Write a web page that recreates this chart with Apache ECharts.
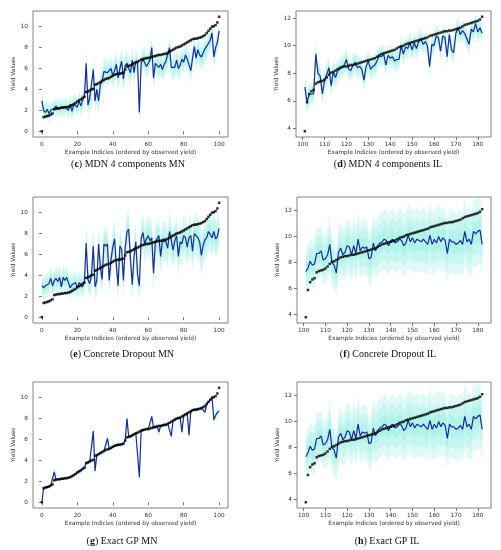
<!DOCTYPE html>
<html><head><meta charset="utf-8">
<script src="https://cdn.jsdelivr.net/npm/echarts@6/dist/echarts.min.js"></script>
<style>html,body{margin:0;padding:0;background:#fff}#c{width:501px;height:550px}</style>
</head><body><div id="c"></div>
<script>
// ---- Data ----
const xMN = Array.from({length:101},(_, i)=>i);
const xIL = Array.from({length:82},(_, i)=>101+i);
const ticksXMN = [0,20,40,60,80,100];
const ticksXIL = [100,110,120,130,140,150,160,170,180];
const ticksYMN = [0,2,4,6,8,10];
const ticksYIL = [4,6,8,10,12];

const obsMN = [0.0,1.35,1.4,1.45,1.5,1.6,1.7,2.1,2.15,2.2,
 2.2,2.25,2.25,2.3,2.3,2.35,2.4,2.5,2.6,2.7,
 2.85,2.95,3.05,3.2,3.3,3.75,3.8,3.9,4.0,4.05,
 4.45,4.5,4.6,4.7,4.8,4.9,5.0,5.05,5.1,5.2,
 5.3,5.4,5.45,5.5,5.5,5.55,5.6,5.9,6.2,6.25,
 6.3,6.4,6.5,6.6,6.65,6.75,6.85,6.9,6.95,7.0,
 7.0,7.05,7.1,7.15,7.2,7.25,7.3,7.3,7.35,7.4,
 7.4,7.5,7.6,7.7,7.8,7.9,8.0,8.05,8.1,8.2,
 8.3,8.4,8.5,8.6,8.7,8.8,8.85,8.85,8.9,8.95,
 9.0,9.1,9.2,9.4,9.6,9.8,10.0,10.05,10.15,10.4,
 10.95];
const obsIL = [3.8,5.9,6.5,6.7,6.8,7.25,7.35,7.4,7.45,7.55,
 7.7,7.9,8.05,8.1,8.2,8.3,8.4,8.45,8.5,8.5,
 8.55,8.6,8.6,8.65,8.7,8.75,8.8,8.85,8.9,8.95,
 9.0,9.05,9.1,9.2,9.3,9.4,9.45,9.5,9.55,9.6,
 9.65,9.7,9.8,9.9,9.95,10.0,10.1,10.15,10.2,10.25,
 10.3,10.35,10.4,10.45,10.5,10.55,10.6,10.7,10.75,10.8,
 10.85,10.9,10.95,11.0,11.05,11.05,11.1,11.1,11.15,11.2,
 11.25,11.3,11.4,11.5,11.55,11.6,11.65,11.7,11.75,11.8,
 11.9,12.1];

// (c) MDN 4 components MN
const predC = [2.9,2.0,1.8,2.1,1.7,2.0,2.0,2.2,2.4,2.1,
 2.2,2.3,2.2,2.3,2.4,2.0,2.6,1.9,2.6,2.7,
 2.3,2.9,2.4,3.0,3.3,6.5,2.5,3.2,3.3,5.9,
 2.9,4.0,2.9,4.5,4.8,5.7,5.8,5.6,5.6,6.0,
 5.3,5.8,6.4,5.1,6.0,6.7,5.0,6.3,6.5,6.0,
 5.6,6.8,5.6,6.7,6.5,1.8,6.5,6.9,6.9,6.2,
 6.5,6.8,8.0,5.1,6.5,6.4,6.1,6.4,5.9,6.4,
 6.7,6.8,8.0,6.1,6.1,6.1,6.8,6.0,6.3,6.9,
 6.6,7.3,6.9,6.8,5.8,7.0,8.1,7.0,7.8,7.3,
 7.1,7.2,7.9,7.8,8.4,8.7,9.4,7.1,8.0,8.5,
 9.6];
const sdC = [0.35,0.3,0.3,0.3,0.3,0.28,0.28,0.28,0.28,0.28,
 0.28,0.28,0.28,0.28,0.28,0.3,0.3,0.3,0.3,0.3,
 0.3,0.3,0.32,0.35,0.38,0.45,0.4,0.4,0.4,0.45,
 0.4,0.4,0.4,0.4,0.4,0.42,0.42,0.42,0.42,0.42,
 0.42,0.42,0.42,0.45,0.45,0.45,0.45,0.42,0.42,0.42,
 0.42,0.42,0.42,0.42,0.42,0.45,0.42,0.4,0.4,0.4,
 0.4,0.4,0.4,0.42,0.4,0.4,0.4,0.4,0.4,0.4,
 0.4,0.4,0.4,0.4,0.4,0.4,0.4,0.4,0.4,0.4,
 0.4,0.4,0.4,0.4,0.42,0.4,0.4,0.4,0.4,0.4,
 0.4,0.4,0.4,0.4,0.4,0.38,0.38,0.38,0.35,0.35,
 0.35];

// (d) MDN 4 components IL
const predD = [7.0,5.9,6.5,6.5,6.5,9.4,8.0,7.8,6.5,7.5,
 7.9,8.4,7.1,8.1,7.7,8.2,8.3,8.5,8.6,9.0,
 8.3,8.2,8.6,8.8,8.4,8.5,8.3,7.5,8.5,8.9,
 8.3,8.5,8.6,8.9,9.3,9.2,9.4,8.6,9.3,9.1,
 9.2,8.9,9.0,9.0,10.0,9.4,9.9,9.8,10.2,9.7,
 10.2,9.8,10.3,10.5,10.1,10.3,10.0,8.5,10.1,10.0,
 10.7,10.6,9.6,10.7,10.6,9.2,10.8,9.7,9.5,10.9,
 11.3,10.8,11.1,10.9,10.5,10.1,11.2,11.0,11.6,11.0,
 11.3,10.9];
const sdD = [0.3,0.3,0.28,0.28,0.28,0.32,0.3,0.3,0.3,0.3,
 0.28,0.28,0.28,0.28,0.28,0.28,0.28,0.28,0.28,0.28,
 0.27,0.27,0.27,0.27,0.27,0.27,0.27,0.28,0.27,0.27,
 0.27,0.27,0.27,0.27,0.27,0.27,0.27,0.27,0.27,0.27,
 0.27,0.27,0.27,0.27,0.28,0.27,0.27,0.27,0.27,0.27,
 0.27,0.27,0.27,0.27,0.27,0.27,0.27,0.3,0.27,0.27,
 0.27,0.27,0.28,0.27,0.27,0.28,0.27,0.28,0.28,0.27,
 0.27,0.27,0.27,0.27,0.27,0.27,0.27,0.27,0.27,0.27,
 0.27,0.27];

// (e) Concrete Dropout MN
const predE = [3.0,2.8,3.0,3.0,3.2,3.7,3.0,3.5,3.7,3.4,
 3.8,2.9,3.8,3.5,3.8,3.3,2.8,3.1,3.1,3.3,
 2.8,3.3,3.2,2.9,3.4,7.1,3.6,3.2,4.0,6.8,
 2.9,3.5,7.0,4.8,3.6,7.0,6.8,7.0,3.5,5.5,
 6.7,7.5,5.0,3.0,6.8,6.5,3.5,6.6,8.2,8.4,
 5.5,3.1,5.8,7.2,4.0,3.0,7.5,8.1,7.0,7.5,
 7.8,7.3,7.6,4.2,7.2,7.2,7.8,5.8,7.3,7.2,
 7.2,6.6,8.2,7.4,6.4,7.3,7.8,5.8,7.2,7.0,
 7.8,7.6,6.7,7.6,7.8,6.3,8.0,7.8,7.6,7.2,
 5.9,6.9,7.4,7.6,8.2,8.2,7.6,8.2,7.5,7.7,
 8.5];
const sdE = [0.38,0.38,0.38,0.38,0.38,0.38,0.38,0.38,0.38,0.38,
 0.38,0.38,0.38,0.38,0.38,0.38,0.38,0.38,0.38,0.38,
 0.38,0.38,0.38,0.38,0.4,0.6,0.45,0.45,0.45,0.6,
 0.45,0.5,0.6,0.55,0.5,0.6,0.6,0.6,0.5,0.55,
 0.6,0.62,0.55,0.5,0.6,0.6,0.5,0.6,0.62,0.62,
 0.55,0.5,0.55,0.6,0.5,0.5,0.62,0.62,0.62,0.62,
 0.65,0.62,0.62,0.55,0.62,0.62,0.65,0.6,0.65,0.65,
 0.65,0.62,0.68,0.65,0.62,0.65,0.68,0.62,0.65,0.65,
 0.68,0.68,0.65,0.68,0.68,0.65,0.68,0.68,0.68,0.65,
 0.62,0.65,0.65,0.65,0.65,0.65,0.62,0.62,0.6,0.6,
 0.6];

// (f) Concrete Dropout IL
const predF = [7.3,7.6,8.1,7.8,7.9,8.7,8.7,8.9,8.2,8.3,
 8.6,9.4,8.0,7.8,7.2,8.8,9.1,8.6,8.8,9.3,
 9.2,8.6,9.3,8.7,9.8,8.9,9.2,9.1,9.2,8.3,
 8.4,9.5,8.9,9.3,9.5,9.6,9.8,9.7,9.3,9.7,
 9.8,9.5,9.6,9.8,9.7,9.3,9.5,10.1,9.6,9.9,
 9.5,9.8,9.7,9.6,9.8,9.6,9.4,10.1,9.4,9.8,
 9.5,10.0,9.6,9.9,9.7,8.7,9.8,9.6,9.6,9.4,
 9.5,9.7,9.4,10.4,9.6,9.8,9.4,10.4,10.2,10.4,
 10.5,9.4];
const sdF = [0.6,0.62,0.62,0.62,0.62,0.65,0.65,0.65,0.62,0.62,
 0.65,0.7,0.62,0.62,0.6,0.65,0.68,0.65,0.68,0.7,
 0.7,0.68,0.7,0.7,0.72,0.7,0.72,0.72,0.72,0.68,
 0.7,0.75,0.72,0.75,0.75,0.75,0.78,0.78,0.75,0.78,
 0.78,0.78,0.78,0.8,0.8,0.78,0.8,0.82,0.8,0.8,
 0.8,0.82,0.8,0.8,0.82,0.8,0.8,0.82,0.8,0.82,
 0.8,0.82,0.8,0.82,0.82,0.75,0.82,0.82,0.82,0.8,
 0.82,0.82,0.82,0.85,0.82,0.85,0.82,0.85,0.85,0.85,
 0.85,0.8];

// (g) Exact GP MN
const predG = [0.0,1.35,1.4,1.45,1.5,1.6,1.75,2.9,2.15,2.2,
 2.2,2.25,2.25,2.3,2.3,2.35,2.4,2.5,2.6,2.7,
 2.85,2.95,3.05,3.2,3.3,3.75,3.8,3.9,4.0,6.8,
 3.0,4.5,4.6,4.7,4.8,4.9,5.0,6.1,5.1,5.2,
 5.3,5.4,5.45,5.5,5.5,5.55,5.6,5.9,8.0,6.25,
 6.3,6.4,6.5,6.6,6.65,2.4,6.85,6.9,6.95,7.0,
 7.0,7.05,8.2,7.15,7.2,7.25,6.7,7.3,7.35,7.4,
 7.4,7.5,7.6,6.3,7.8,7.9,8.0,8.05,8.1,6.7,
 8.3,8.4,8.5,6.4,8.7,8.8,8.85,8.85,8.9,8.95,
 9.0,9.1,8.6,9.4,9.6,9.8,10.0,7.9,8.3,8.6,
 8.7];
const sdG = [0.05,0.05,0.05,0.05,0.05,0.05,0.06,0.18,0.06,0.05,
 0.05,0.05,0.05,0.05,0.05,0.05,0.05,0.05,0.05,0.06,
 0.06,0.1,0.06,0.1,0.06,0.06,0.06,0.06,0.08,0.22,
 0.18,0.06,0.06,0.06,0.06,0.06,0.08,0.18,0.06,0.06,
 0.06,0.06,0.06,0.06,0.06,0.06,0.08,0.1,0.22,0.06,
 0.06,0.06,0.06,0.06,0.08,0.25,0.08,0.06,0.06,0.06,
 0.06,0.06,0.15,0.06,0.06,0.08,0.15,0.06,0.06,0.06,
 0.06,0.06,0.08,0.18,0.06,0.06,0.06,0.06,0.08,0.18,
 0.06,0.06,0.08,0.2,0.06,0.06,0.06,0.06,0.06,0.06,
 0.06,0.08,0.15,0.06,0.06,0.06,0.08,0.18,0.15,0.15,
 0.15];

// (h) Exact GP IL
const predH = [7.3,7.6,8.1,7.8,7.9,8.7,8.7,8.9,8.2,8.3,
 8.6,9.4,8.0,7.8,7.2,8.8,9.1,8.6,8.8,9.3,
 9.2,8.6,9.3,8.7,9.8,8.9,9.2,9.1,9.2,8.3,
 8.4,9.5,8.9,9.3,9.5,9.6,9.8,9.7,9.3,9.7,
 9.8,9.5,9.6,9.8,9.7,9.3,9.5,10.1,9.6,9.9,
 9.5,9.8,9.7,9.6,9.8,9.6,9.4,10.1,9.4,9.8,
 9.5,10.0,9.6,9.9,9.7,8.7,9.8,9.6,9.6,9.4,
 9.5,9.7,9.4,10.4,9.6,9.8,9.4,10.4,10.2,10.4,
 10.5,9.4];
const sdH = [0.6,0.62,0.62,0.62,0.62,0.65,0.65,0.65,0.62,0.62,
 0.65,0.7,0.62,0.62,0.6,0.65,0.68,0.65,0.68,0.7,
 0.7,0.68,0.7,0.7,0.72,0.7,0.72,0.72,0.72,0.68,
 0.7,0.75,0.72,0.75,0.75,0.75,0.78,0.78,0.75,0.78,
 0.78,0.78,0.78,0.8,0.8,0.78,0.8,0.82,0.8,0.8,
 0.8,0.82,0.8,0.8,0.82,0.8,0.8,0.82,0.8,0.82,
 0.8,0.82,0.8,0.82,0.82,0.75,0.82,0.82,0.82,0.8,
 0.82,0.82,0.82,0.85,0.82,0.85,0.82,0.85,0.85,0.85,
 0.85,0.8];

const captions = [
  ['c','MDN 4 components MN'],
  ['d','MDN 4 components IL'],
  ['e','Concrete Dropout MN'],
  ['f','Concrete Dropout IL'],
  ['g','Exact GP MN'],
  ['h','Exact GP IL']
];

// ---- Layout / panels ----
const panels = [
  {grid:{left:33, top:11, width:195, height:126}, xs:xMN, obs:obsMN, pred:predC, sd:sdC, xr:[-5,105], yr:[-0.55,11.5], cap:[128,164]},
  {grid:{left:296, top:11, width:195, height:126}, xs:xIL, obs:obsIL, pred:predD, sd:sdD, xr:[96.95,186.05], yr:[3.385,12.515], cap:[388,164]},
  {grid:{left:33, top:197, width:195, height:126}, xs:xMN, obs:obsMN, pred:predE, sd:sdE, xr:[-5,105], yr:[-0.57,11.5], cap:[122,354]},
  {grid:{left:297, top:197, width:194, height:126}, xs:xIL, obs:obsIL, pred:predF, sd:sdF, xr:[96.95,186.05], yr:[3.36,13.04], cap:[388,354]},
  {grid:{left:33, top:382, width:195, height:126}, xs:xMN, obs:obsMN, pred:predG, sd:sdG, xr:[-5,105], yr:[-0.55,11.5], cap:[122,541]},
  {grid:{left:297, top:382, width:194, height:126}, xs:xIL, obs:obsIL, pred:predH, sd:sdH, xr:[96.95,186.05], yr:[3.36,13.04], cap:[387,541]}
];

const FONT = 'DejaVu Sans';
const grids=[], xAxes=[], yAxes=[], series=[], graphics=[];

function band(p, xs, pred, sd, k){
  const up = pred.map((v,i)=>v + k*sd[i]);
  const lo = pred.map((v,i)=>v - k*sd[i]);
  return {
    type:'custom', xAxisIndex:p, yAxisIndex:p, silent:true, clip:false, z:1,
    data:[[xs[0], pred[0]]],
    renderItem:function(params, api){
      const pts=[];
      for(let i=0;i<xs.length;i++) pts.push(api.coord([xs[i], up[i]]));
      for(let i=xs.length-1;i>=0;i--) pts.push(api.coord([xs[i], lo[i]]));
      return {type:'polygon', shape:{points:pts}, style:{fill:'rgba(64,224,200,0.17)', stroke:null}};
    }
  };
}

panels.forEach((P,p)=>{
  const isMN = P.xs===xMN;
  grids.push(Object.assign({show:true, borderColor:'#666', borderWidth:0.8, backgroundColor:'transparent'}, P.grid));
  xAxes.push({type:'value', gridIndex:p, min:P.xr[0], max:P.xr[1],
    splitLine:{show:false}, axisLine:{show:false},
    axisTick:{show:true, length:3, lineStyle:{color:'#555', width:0.8}, customValues: isMN?ticksXMN:ticksXIL},
    axisLabel:{fontSize:5.8, color:'#333', fontFamily:FONT, margin:4, customValues: isMN?ticksXMN:ticksXIL},
    name:'Example Indicies (ordered by observed yield)', nameLocation:'middle', nameGap:12,
    nameTextStyle:{fontSize:5.8, color:'#333', fontFamily:FONT}
  });
  yAxes.push({type:'value', gridIndex:p, min:P.yr[0], max:P.yr[1],
    splitLine:{show:false}, axisLine:{show:false},
    axisTick:{show:true, length:3, lineStyle:{color:'#555', width:0.8}, customValues: isMN?ticksYMN:ticksYIL},
    axisLabel:{fontSize:5.8, color:'#333', fontFamily:FONT, margin:5, customValues: isMN?ticksYMN:ticksYIL},
    name:'Yield Values', nameLocation:'middle', nameGap:isMN?15:14, nameRotate:90,
    nameTextStyle:{fontSize:5.8, color:'#333', fontFamily:FONT}
  });
  [3,2,1].forEach(k=>series.push(band(p, P.xs, P.pred, P.sd, k)));
  series.push({type:'line', xAxisIndex:p, yAxisIndex:p, data:P.xs.map((x,i)=>[x,P.pred[i]]),
    showSymbol:false, symbol:'none', lineStyle:{color:'#1b2a9c', width:1.2}, z:3, silent:true, animation:false});
  series.push({type:'scatter', xAxisIndex:p, yAxisIndex:p, data:P.xs.map((x,i)=>[x,P.obs[i]]),
    symbol:'rect', symbolSize:2.5, itemStyle:{color:'#000'}, z:4, silent:true});
  graphics.push({type:'text', x:P.cap[0], y:P.cap[1], z:10,
    style:{text:'({b|'+captions[p][0]+'}) '+captions[p][1], fill:'#111',
      font:'10px "Liberation Serif"', align:'center', verticalAlign:'middle',
      rich:{b:{fontWeight:'bold', fontSize:10, fontFamily:'Liberation Serif', fill:'#111'}}}});
});

const chart = echarts.init(document.getElementById('c'), null, {renderer:'canvas'});
chart.setOption({animation:false, grid:grids, xAxis:xAxes, yAxis:yAxes, series:series, graphic:graphics});
</script></body></html>
